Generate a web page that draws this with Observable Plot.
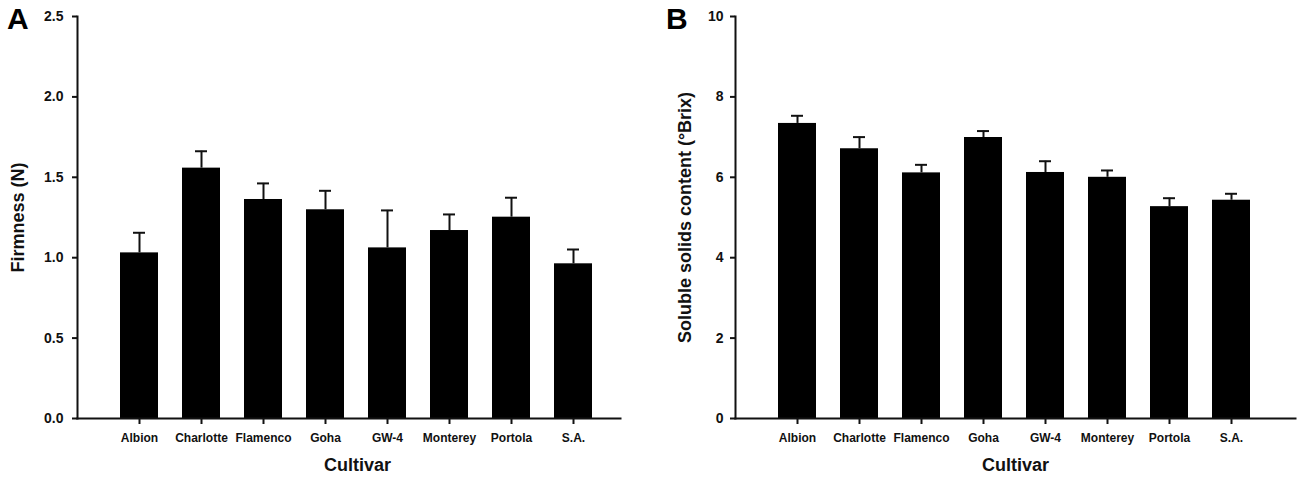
<!DOCTYPE html>
<html>
<head>
<meta charset="utf-8">
<script src="https://cdn.jsdelivr.net/npm/d3@7"></script>
<script src="https://cdn.jsdelivr.net/npm/@observablehq/plot@0.6"></script>
<style>
  html, body { margin: 0; padding: 0; background: #fff; }
  #wrap { display: flex; flex-direction: row; width: 1297px; height: 478px; font-family: "Liberation Sans", Arial, sans-serif; }
  .panel { position: relative; }
  .letter { position: absolute; top: 4px; font-weight: bold; font-size: 30px; line-height: 1; color: #000; }
  svg { display: block; }
</style>
</head>
<body>
<div id="wrap"></div>
<script>
const cultivars = ["Albion", "Charlotte", "Flamenco", "Goha", "GW-4", "Monterey", "Portola", "S.A."];
const firmness = [1.03, 1.557, 1.362, 1.298, 1.061, 1.169, 1.252, 0.962];
const firmnessSE = [0.125, 0.105, 0.10, 0.118, 0.233, 0.10, 0.121, 0.089];
const ssc = [7.34, 6.71, 6.11, 6.99, 6.12, 6.0, 5.27, 5.43];
const sscSE = [0.19, 0.29, 0.20, 0.16, 0.28, 0.17, 0.21, 0.16];
const firmTicks = [0, 0.5, 1.0, 1.5, 2.0, 2.5];
const sscTicks = [0, 2, 4, 6, 8, 10];

function panel({values, se, yMax, ticks, fmt, ylabel, width, marginRight, tickPad, ylabelX, letter, letterX}) {
  const data = cultivars.map((c, i) => ({cultivar: c, mean: values[i], top: values[i] + se[i]}));
  const marginLeft = 77;
  const frameCenter = (marginLeft + width - marginRight) / 2;
  const plot = Plot.plot({
    width, height: 478,
    marginLeft, marginRight, marginTop: 16, marginBottom: 60,
    style: {fontFamily: "'Liberation Sans', Arial, sans-serif", background: "#fff", color: "#111", overflow: "visible"},
    x: {domain: cultivars, range: [108, 604], paddingInner: 0.387, paddingOuter: 0.1935, label: null},
    y: {domain: [0, yMax], label: null},
    marks: [
      Plot.barY(data, {x: "cultivar", y: "mean", fill: "#000"}),
      Plot.ruleX(data, {x: "cultivar", y1: "mean", y2: "top", stroke: "#111", strokeWidth: 2}),
      Plot.tickY(data, {x: "cultivar", y: "top", stroke: "#111", strokeWidth: 2, insetLeft: 13, insetRight: 13}),
      Plot.frame({anchor: "left", stroke: "#111", strokeWidth: 2}),
      Plot.frame({anchor: "bottom", stroke: "#111", strokeWidth: 2}),
      Plot.axisY({ticks, tickFormat: fmt, tickSize: 5, tickPadding: tickPad, fontSize: 14, fontWeight: "bold", label: null, strokeWidth: 2}),
      Plot.axisX({tickSize: 6, tickPadding: 9, fontSize: 12, fontWeight: "bold", label: null, strokeWidth: 2}),
      Plot.text(["Cultivar"], {frameAnchor: "bottom", dx: 357 - frameCenter, dy: 52, fontSize: 18, fontWeight: "bold", fill: "#111"}),
      Plot.text([ylabel], {frameAnchor: "left", textAnchor: "middle", rotate: -90, dx: ylabelX - marginLeft, fontSize: 18, fontWeight: "bold", fill: "#111"})
    ]
  });
  const div = document.createElement("div");
  div.className = "panel";
  div.style.width = width + "px";
  div.appendChild(plot);
  const l = document.createElement("div");
  l.className = "letter";
  l.style.left = letterX + "px";
  l.textContent = letter;
  div.appendChild(l);
  return div;
}

const wrap = document.getElementById("wrap");
wrap.appendChild(panel({values: firmness, se: firmnessSE, yMax: 2.5, ticks: firmTicks, fmt: d3.format(".1f"),
  ylabel: "Firmness (N)", width: 658, marginRight: 38, tickPad: 9, ylabelX: 18, letter: "A", letterX: 7}));
wrap.appendChild(panel({values: ssc, se: sscSE, yMax: 10, ticks: sscTicks, fmt: d3.format("d"),
  ylabel: "Soluble solids content (°Brix)", width: 639, marginRight: 2, tickPad: 7, ylabelX: 27, letter: "B", letterX: 8}));
</script>
</body>
</html>
